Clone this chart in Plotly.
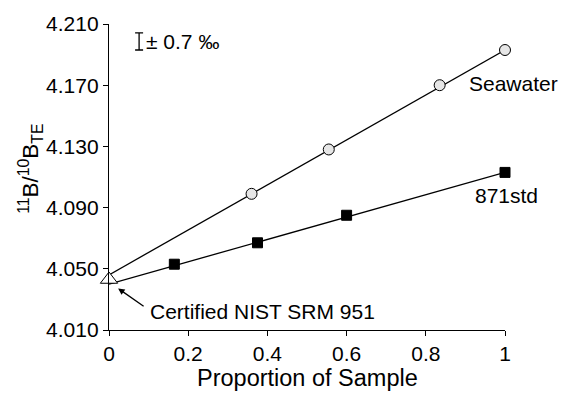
import plotly.graph_objects as go

# Data
sw_x = [0.36, 0.555, 0.835, 1.0]
sw_y = [4.099, 4.128, 4.170, 4.193]
sw_line_x = [0.0, 1.0]
sw_line_y = [4.046, 4.193]

std_x = [0.165, 0.375, 0.6, 1.0]
std_y = [4.053, 4.067, 4.085, 4.113]
std_line_x = [0.0, 1.0]
std_line_y = [4.040, 4.113]

nist_x = [0.0]
nist_y = [4.043]

# precision indicator (± 0.7 ‰ bar)
prec_x = [0.076]
prec_y = [4.1986]
prec_half = [0.0056]

x_ticks = [0, 0.2, 0.4, 0.6, 0.8, 1]
x_ticktext = ["0", "0.2", "0.4", "0.6", "0.8", "1"]
y_ticks = [4.010, 4.050, 4.090, 4.130, 4.170, 4.210]
y_ticktext = ["4.010", "4.050", "4.090", "4.130", "4.170", "4.210"]

FONT = "Liberation Sans, Arial, Helvetica, sans-serif"

fig = go.Figure()
fig.add_trace(go.Scatter(x=sw_line_x, y=sw_line_y, mode="lines",
                         line=dict(color="black", width=1.3), cliponaxis=False))
fig.add_trace(go.Scatter(x=std_line_x, y=std_line_y, mode="lines",
                         line=dict(color="black", width=1.3), cliponaxis=False))
fig.add_trace(go.Scatter(x=sw_x, y=sw_y, mode="markers", cliponaxis=False,
                         marker=dict(symbol="circle", size=11, color="#e6e6e6",
                                     line=dict(color="black", width=1))))
fig.add_trace(go.Scatter(x=std_x, y=std_y, mode="markers", cliponaxis=False,
                         marker=dict(symbol="square", size=10, color="black",
                                     line=dict(color="black", width=1))))
fig.add_trace(go.Scatter(x=nist_x, y=nist_y, mode="markers", cliponaxis=False,
                         marker=dict(symbol="triangle-up", size=15, color="white",
                                     line=dict(color="black", width=1))))
fig.add_trace(go.Scatter(x=prec_x, y=prec_y, mode="markers", cliponaxis=False,
                         marker=dict(size=1, color="rgba(0,0,0,0)"),
                         error_y=dict(type="data", array=prec_half, symmetric=True,
                                      color="black", thickness=1.3, width=4)))

annotations = [
    dict(x=1.0, y=4.1708, text="Seawater", showarrow=False, xanchor="right",
         xshift=55, yanchor="middle", font=dict(size=21, family=FONT, color="black")),
    dict(x=1.0, y=4.098, text="871std", showarrow=False, xanchor="right",
         xshift=35, yanchor="middle", font=dict(size=21, family=FONT, color="black")),
    dict(x=0.0, y=4.022, text="Certified NIST SRM 951", showarrow=False,
         xanchor="left", xshift=39, yanchor="middle",
         font=dict(size=21, family=FONT, color="black")),
    dict(x=0.023, y=4.0372, ax=27, ay=19, text="", showarrow=True,
         arrowhead=2, arrowsize=1, arrowwidth=1.3, arrowcolor="black"),
    dict(x=0.076, y=4.1986, text="± 0.7 ‰", showarrow=False, xanchor="left",
         xshift=5, yanchor="middle", font=dict(size=21, family=FONT, color="black")),
    # axis titles
    dict(xref="paper", yref="paper", x=0.5, y=-0.157, text="Proportion of Sample",
         showarrow=False, xanchor="center", yanchor="middle",
         font=dict(size=23.5, family=FONT, color="black")),
    dict(xref="paper", yref="paper", x=-0.2, y=0.526,
         text="<sup>11</sup>B/<sup>10</sup>B<sub>TE</sub>", textangle=-90,
         showarrow=False, xanchor="center", yanchor="middle",
         font=dict(size=22.5, family=FONT, color="black")),
]

fig.update_layout(
    width=563, height=394,
    margin=dict(l=109, r=58, t=24, b=64),
    paper_bgcolor="white", plot_bgcolor="white",
    showlegend=False,
    font=dict(family=FONT, color="black", size=21),
    annotations=annotations,
    xaxis=dict(range=[0, 1], tickvals=x_ticks, ticktext=x_ticktext, automargin=False,
               showgrid=False, zeroline=False, showline=True, linecolor="black",
               linewidth=1.3, ticks="outside", ticklen=5, tickcolor="black",
               tickfont=dict(size=21, family=FONT)),
    yaxis=dict(range=[4.010, 4.210], tickvals=y_ticks, ticktext=y_ticktext, automargin=False,
               showgrid=False, zeroline=False, showline=True, linecolor="black",
               linewidth=1.3, ticks="outside", ticklen=5, tickcolor="black",
               tickfont=dict(size=21, family=FONT)),
)

fig.write_html("out.html", config={"displayModeBar": False},
               post_script="document.body.style.margin='0px';document.body.style.padding='0px';")
